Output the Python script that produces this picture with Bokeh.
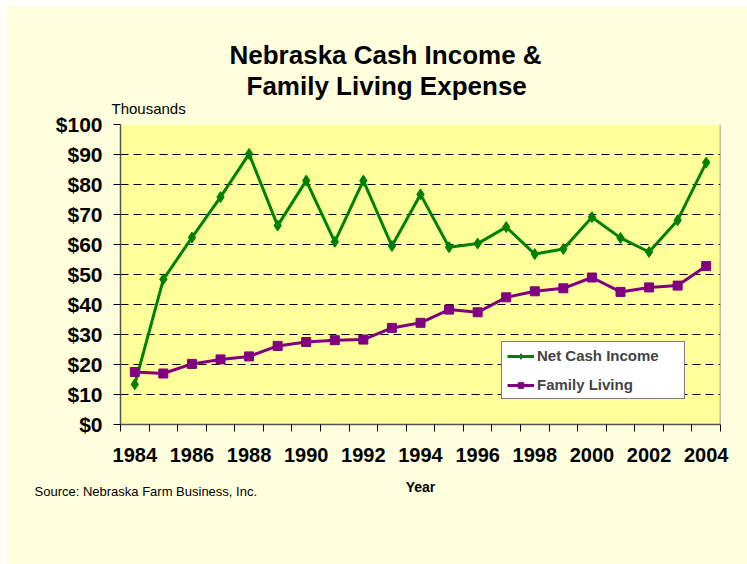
from bokeh.plotting import figure
from bokeh.models import FixedTicker, Span, Legend, LegendItem, PrintfTickFormatter, Range1d, Title
from bokeh.embed import file_html
from bokeh.resources import INLINE

years = list(range(1984, 2005))
net_cash = [13.4, 48.4, 62.3, 75.8, 90.2, 66.3, 81.3, 60.9, 81.3, 59.5, 76.7,
            59.1, 60.3, 65.8, 56.8, 58.5, 69.1, 62.2, 57.5, 68.1, 87.3]
family_living = [17.5, 17.0, 20.2, 21.7, 22.7, 26.2, 27.5, 28.1, 28.3, 32.2, 33.9,
                 38.3, 37.4, 42.4, 44.4, 45.4, 49.0, 44.2, 45.7, 46.3, 52.8]
y_ticks = list(range(0, 101, 10))
x_label_years = list(range(1984, 2005, 2))

FONT = "Liberation Sans"
GREEN = "#008000"
PURPLE = "#800080"

p = figure(width=741, height=559, output_backend="svg", toolbar_location=None, title=None,
           x_range=Range1d(years[0] - 0.5, years[-1] + 0.5), y_range=Range1d(0, 100),
           min_border_left=114, min_border_right=27, min_border_top=119, min_border_bottom=140)
p.margin = (5, 0, 0, 6)
p.background_fill_color = "#FFFF99"
p.border_fill_color = "#FFFFDD"
p.outline_line_color = None

# series
l1 = p.line(years, net_cash, line_color=GREEN, line_width=3)
s1 = p.scatter(years, net_cash, marker="diamond", size=11, fill_color=GREEN, line_color=GREEN)
l2 = p.line(years, family_living, line_color=PURPLE, line_width=3)
s2 = p.scatter(years, family_living, marker="square", size=9, fill_color=PURPLE, line_color=PURPLE)

# x axis
p.xaxis.ticker = FixedTicker(ticks=x_label_years,
                             minor_ticks=[y - 0.5 for y in years] + [years[-1] + 0.5])
p.xaxis.major_tick_out = 0
p.xaxis.major_tick_in = 0
p.xaxis.minor_tick_out = 7
p.xaxis.minor_tick_in = 0
p.xaxis.minor_tick_line_color = "black"
p.xaxis.major_label_standoff = 16
p.xaxis.major_label_text_font = FONT
p.xaxis.major_label_text_font_style = "bold"
p.xaxis.major_label_text_font_size = "20px"
p.xaxis.major_label_text_color = "black"
p.xaxis.axis_line_color = "#555555"
p.xaxis.axis_line_width = 1.5
p.xaxis.axis_label = "Year"
p.xaxis.axis_label_text_font = FONT
p.xaxis.axis_label_text_font_style = "bold"
p.xaxis.axis_label_text_font_size = "14px"
p.xaxis.axis_label_text_color = "black"
p.xaxis.axis_label_standoff = 14

# y axis
p.yaxis.ticker = FixedTicker(ticks=y_ticks)
p.yaxis.formatter = PrintfTickFormatter(format="$%d")
p.yaxis.minor_tick_line_color = None
p.yaxis.major_tick_out = 7
p.yaxis.major_tick_in = 0
p.yaxis.major_tick_line_color = "black"
p.yaxis.major_label_standoff = 11
p.yaxis.major_label_text_font = FONT
p.yaxis.major_label_text_font_style = "bold"
p.yaxis.major_label_text_font_size = "21px"
p.yaxis.major_label_text_color = "black"
p.yaxis.axis_line_color = "#555555"
p.yaxis.axis_line_width = 1.5

p.xgrid.grid_line_color = None
p.ygrid.ticker = FixedTicker(ticks=y_ticks)
p.ygrid.grid_line_color = "black"
p.ygrid.grid_line_dash = "8 5"
p.ygrid.grid_line_width = 1

p.add_layout(Span(location=years[-1] + 0.5, dimension="height", line_color="#808080", line_width=1.5))

legend = Legend(items=[LegendItem(label="Net Cash Income", renderers=[l1, s1]),
                       LegendItem(label="Family Living", renderers=[l2, s2])],
                location=(381, 25))
legend.label_text_font = FONT
legend.label_text_font_style = "bold"
legend.label_text_font_size = "15px"
legend.border_line_color = "black"
legend.border_line_width = 1
legend.background_fill_color = "white"
legend.background_fill_alpha = 1
legend.padding = 5
legend.spacing = 12
legend.glyph_width = 27
legend.glyph_height = 14
legend.label_height = 14
legend.label_width = 142
legend.label_standoff = 3
legend.margin = 0
p.add_layout(legend, "center")

# titles / notes (first added sits closest to the frame)
def title(text, size, bold, offset, standoff, where="above", valign="bottom"):
    p.add_layout(Title(text=text, align="left", offset=offset, standoff=standoff,
                       vertical_align=valign,
                       text_font=FONT, text_font_size=size,
                       text_font_style="bold" if bold else "normal",
                       text_color="black"), where)

title("Thousands", "15px", False, -9, 16)
title("Family Living Expense", "26px", True, 126, -22)
title("Nebraska Cash Income &", "26px", True, 109, 20)
title("Source: Nebraska Farm Business, Inc.", "13px", False, -86, -28, "below", "top")

open("out.html", "w").write(file_html(p, INLINE))
